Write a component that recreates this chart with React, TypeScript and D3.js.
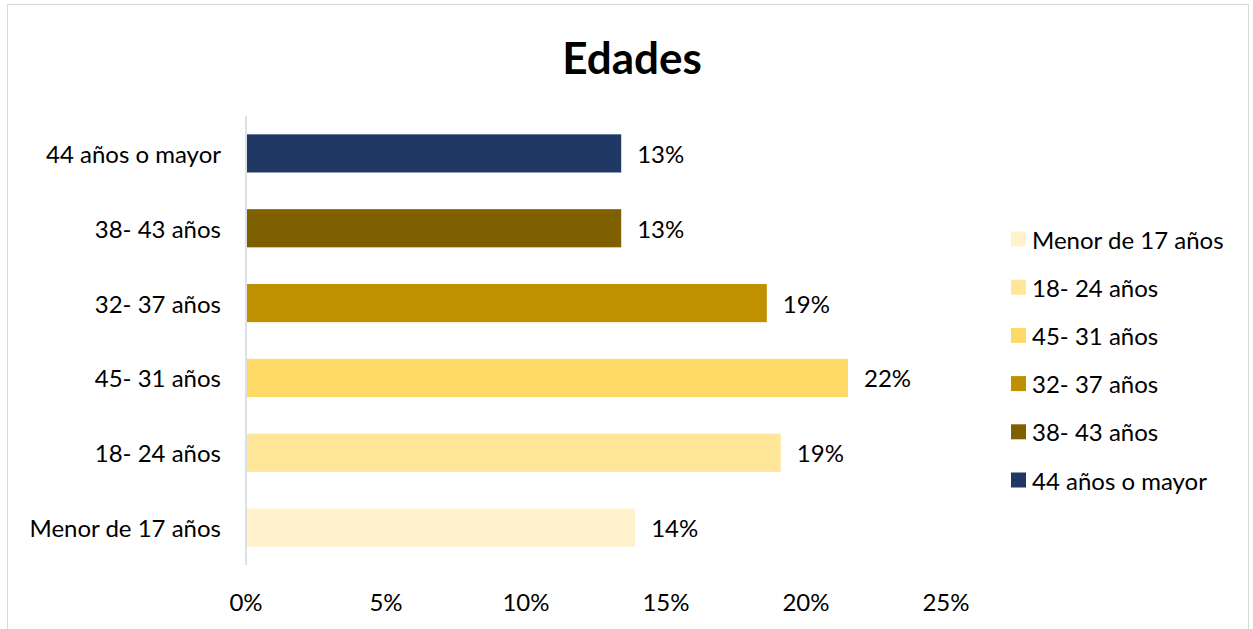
import React from "react";
import * as d3 from "d3";

const categories = ["Menor de 17 años", "18- 24 años", "45- 31 años", "32- 37 años", "38- 43 años", "44 años o mayor"];
const values = [0.139, 0.191, 0.215, 0.186, 0.134, 0.134];
const colors = ["#FFF2CC", "#FFE699", "#FFD966", "#BF9000", "#7F6000", "#203864"];
const xTicks = [0, 0.05, 0.1, 0.15, 0.2, 0.25];
const title = "Edades";

const W = 1253;
const H = 629;
const FONT = "Lato, 'Open Sans', sans-serif";
const FS = 24;

export default function App() {
  const x = d3.scaleLinear().domain([0, 0.25]).range([246, 946]);
  const y = d3
    .scaleBand<string>()
    .domain([...categories].reverse())
    .range([116, 565])
    .paddingInner(0.49)
    .paddingOuter(0.245);
  const fmt = d3.format(".0%");
  const legendY = d3.scaleLinear().domain([0, 5]).range([239, 480]);

  return (
    <svg width={W} height={H} style={{ position: "absolute", left: 0, top: 0, background: "#fff" }} fontFamily={FONT}>
      <rect x={7.5} y={4.5} width={W - 12} height={H + 10} fill="#fff" stroke="#D9D9D9" strokeWidth={1} />
      <text x={632} y={57} textAnchor="middle" dominantBaseline="central" fontSize={44} fontWeight="bold" fill="#000">
        {title}
      </text>
      <line x1={x(0)} x2={x(0)} y1={116} y2={565} stroke="#D9E1EA" strokeWidth={2} />
      {categories.map((c, i) => (
        <g key={c}>
          <rect x={x(0) + 1} y={y(c)} width={x(values[i]) - x(0) - 1} height={y.bandwidth()} fill={colors[i]} />
          <text
            x={x(values[i]) + 16}
            y={(y(c) as number) + y.bandwidth() / 2}
            dominantBaseline="central"
            fontSize={FS}
            fill="#000"
          >
            {fmt(values[i])}
          </text>
          <text
            x={221}
            y={(y(c) as number) + y.bandwidth() / 2}
            textAnchor="end"
            dominantBaseline="central"
            fontSize={FS}
            fill="#000"
          >
            {c}
          </text>
        </g>
      ))}
      {xTicks.map((t) => (
        <text key={t} x={x(t)} y={601} textAnchor="middle" dominantBaseline="central" fontSize={FS} fill="#000">
          {fmt(t)}
        </text>
      ))}
      {categories.map((c, i) => (
        <g key={"lg" + c}>
          <rect x={1011} y={legendY(i) - 7.5} width={15} height={15} fill={colors[i]} />
          <text x={1032} y={legendY(i)} dominantBaseline="central" fontSize={FS} fill="#000">
            {c}
          </text>
        </g>
      ))}
    </svg>
  );
}
